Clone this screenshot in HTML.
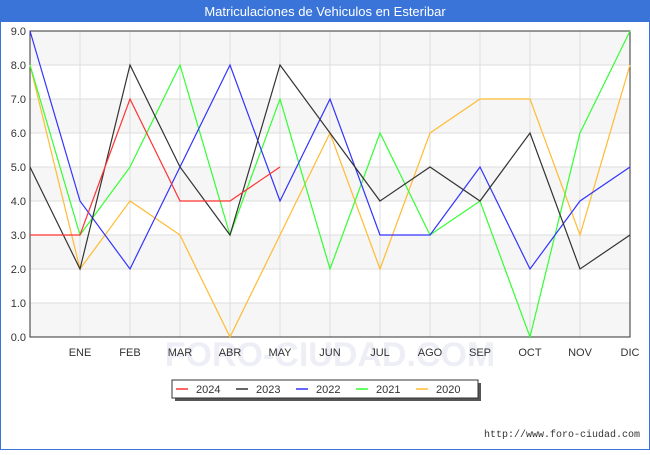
<!DOCTYPE html>
<html><head><meta charset="utf-8"><style>
body{margin:0;background:#fff;font-family:"Liberation Sans",sans-serif}
</style></head><body>
<svg width="650" height="450" xmlns="http://www.w3.org/2000/svg">
<rect x="0" y="0" width="650" height="450" fill="#fff"/>
<rect x="1" y="1" width="648" height="21" fill="#3a74d8"/>
<text x="325" y="16" text-anchor="middle" font-size="13" fill="#fff">Matriculaciones de Vehiculos en Esteribar</text>
<rect x="0.5" y="0.5" width="649" height="449" fill="none" stroke="#3a74d8"/>
<g id="grid"></g>
<text x="330" y="366" text-anchor="middle" font-size="34" fill="#eeeef6" font-weight="bold">FORO-CIUDAD.COM</text>
<g id="labels"></g>
<g id="series"></g>
<g id="legend"></g>
<text x="640" y="437" text-anchor="end" font-size="10" font-family="Liberation Mono" fill="#333">http://www.foro-ciudad.com</text>
</svg>
<script>
const categories=["","ENE","FEB","MAR","ABR","MAY","JUN","JUL","AGO","SEP","OCT","NOV","DIC"];
const yTicks=[0,1,2,3,4,5,6,7,8,9];
const s2024=[3,3,7,4,4,5];
const s2023=[5,2,8,5,3,8,6,4,5,4,6,2,3];
const s2022=[9,4,2,5,8,4,7,3,3,5,2,4,5];
const s2021=[8,3,5,8,3,7,2,6,3,4,0,6,9];
const s2020=[8,2,4,3,0,3,6,2,6,7,7,3,8];
const seriesNames=["2024","2023","2022","2021","2020"];
const seriesData=[s2024,s2023,s2022,s2021,s2020];
const colors=["#ff3333","#333333","#3333ff","#33ff33","#ffbb33"];
const L=30,R=630,T=31,B=337,NS="http://www.w3.org/2000/svg";
const x=i=>L+(R-L)*i/(categories.length-1);
const y=v=>B-(B-T)*v/9;
function mk(t,a,p){const e=document.createElementNS(NS,t);for(const k in a)e.setAttribute(k,a[k]);p.appendChild(e);return e;}
const g=document.getElementById('grid');
const lb=document.getElementById('labels');
for(let i=0;i<9;i++){if(i%2==0){const r=mk('rect',{x:L,y:y(i+1),width:R-L,height:y(i)-y(i+1),fill:'#f6f6f6'},g);

}}
yTicks.forEach(v=>{const l=mk('line',{x1:L,x2:R,y1:y(v),y2:y(v),stroke:'#dddddd'},g);


const t=mk('text',{x:L-4,y:y(v)+4,'text-anchor':'end','font-size':11,fill:'#333'},lb);t.textContent=v.toFixed(1);

});
categories.forEach((c,i)=>{if(i>0){const l=mk('line',{x1:x(i),x2:x(i),y1:T,y2:B,stroke:'#dddddd'},g);

}
const t=mk('text',{x:x(i),y:356,'text-anchor':'middle','font-size':11,fill:'#333'},lb);t.textContent=c;

});
const ax=mk('rect',{x:L,y:T,width:R-L,height:B-T,fill:'none',stroke:'#333'},g);


const sg=document.getElementById('series');
for(let k=seriesData.length-1;k>=0;k--){const d=seriesData[k];
const p=mk('polyline',{points:d.map((v,i)=>x(i)+','+y(v)).join(' '),fill:'none',stroke:colors[k],'stroke-width':1.2},sg);

}
const lg=document.getElementById('legend');
const sh=mk('rect',{x:175,y:383,width:306,height:18,fill:'#555'},lg);


const bx=mk('rect',{x:172,y:380,width:306,height:18,fill:'#fff',stroke:'#333'},lg);


seriesNames.forEach((n,k)=>{const lx=176+k*60;
const l=mk('line',{x1:lx,x2:lx+12,y1:389,y2:389,stroke:colors[k],'stroke-width':1.5},lg);


const t=mk('text',{x:lx+20,y:393,'font-size':11,fill:'#333'},lg);t.textContent=n;

});
</script>
</body></html>
